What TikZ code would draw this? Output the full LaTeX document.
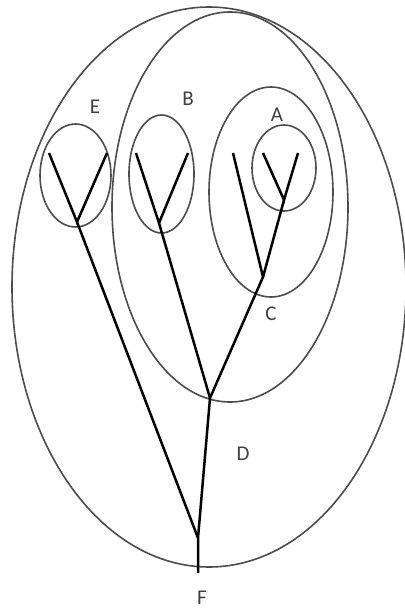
\documentclass[tikz,border=0pt]{standalone}
\usepackage{fontspec}
\setmainfont{Carlito}
\begin{document}
\begin{tikzpicture}[x=1pt,y=-1pt,
  ring/.style={draw=black!70,line width=1.6pt},
  branch/.style={draw=black,line width=2.5pt,line join=miter},
  lbl/.style={text=black!75,font=\fontsize{21}{23}\selectfont,inner sep=0pt}]
\useasboundingbox (0,0) rectangle (404,610);
% ellipses
\draw[ring] (209,287) ellipse [x radius=197,y radius=280];
\draw[ring] (230,207) ellipse [x radius=118,y radius=195];
\draw[ring] (271,192) ellipse [x radius=62,y radius=105];
\draw[ring] (284,168) ellipse [x radius=32,y radius=43];
\draw[ring] (75.5,175.5) ellipse [x radius=35.5,y radius=51.5];
\draw[ring] (161.5,174) ellipse [x radius=32.5,y radius=59];
% tree coordinates
\coordinate (e1) at (49,153);
\coordinate (e2) at (107,153);
\coordinate (ej) at (77,222);
\coordinate (b1) at (136,153);
\coordinate (b2) at (188,153);
\coordinate (bj) at (159,223);
\coordinate (c1) at (233,153);
\coordinate (a1) at (263,153);
\coordinate (a2) at (298,153);
\coordinate (aj) at (284,200);
\coordinate (cj) at (263,277);
\coordinate (dj) at (210,398);
\coordinate (fj) at (198,538);
\coordinate (root) at (198,573);
% tree
\draw[branch] (e1) -- (ej) -- (e2);
\draw[branch] (ej) -- (fj);
\draw[branch] (b1) -- (bj) -- (b2);
\draw[branch] (bj) -- (dj);
\draw[branch] (a1) -- (aj) -- (a2);
\draw[branch] (aj) -- (cj);
\draw[branch] (c1) -- (cj) -- (dj);
\draw[branch] (dj) -- (fj) -- (root);
% labels
\node[lbl] (lE) at (95,107) {E};
\node[lbl] (lB) at (188,99) {B};
\node[lbl] (lA) at (277,115) {A};
\node[lbl] (lC) at (271,314) {C};
\node[lbl] (lD) at (243,454) {D};
\node[lbl] (lF) at (202,598) {F};
\end{tikzpicture}
\end{document}
